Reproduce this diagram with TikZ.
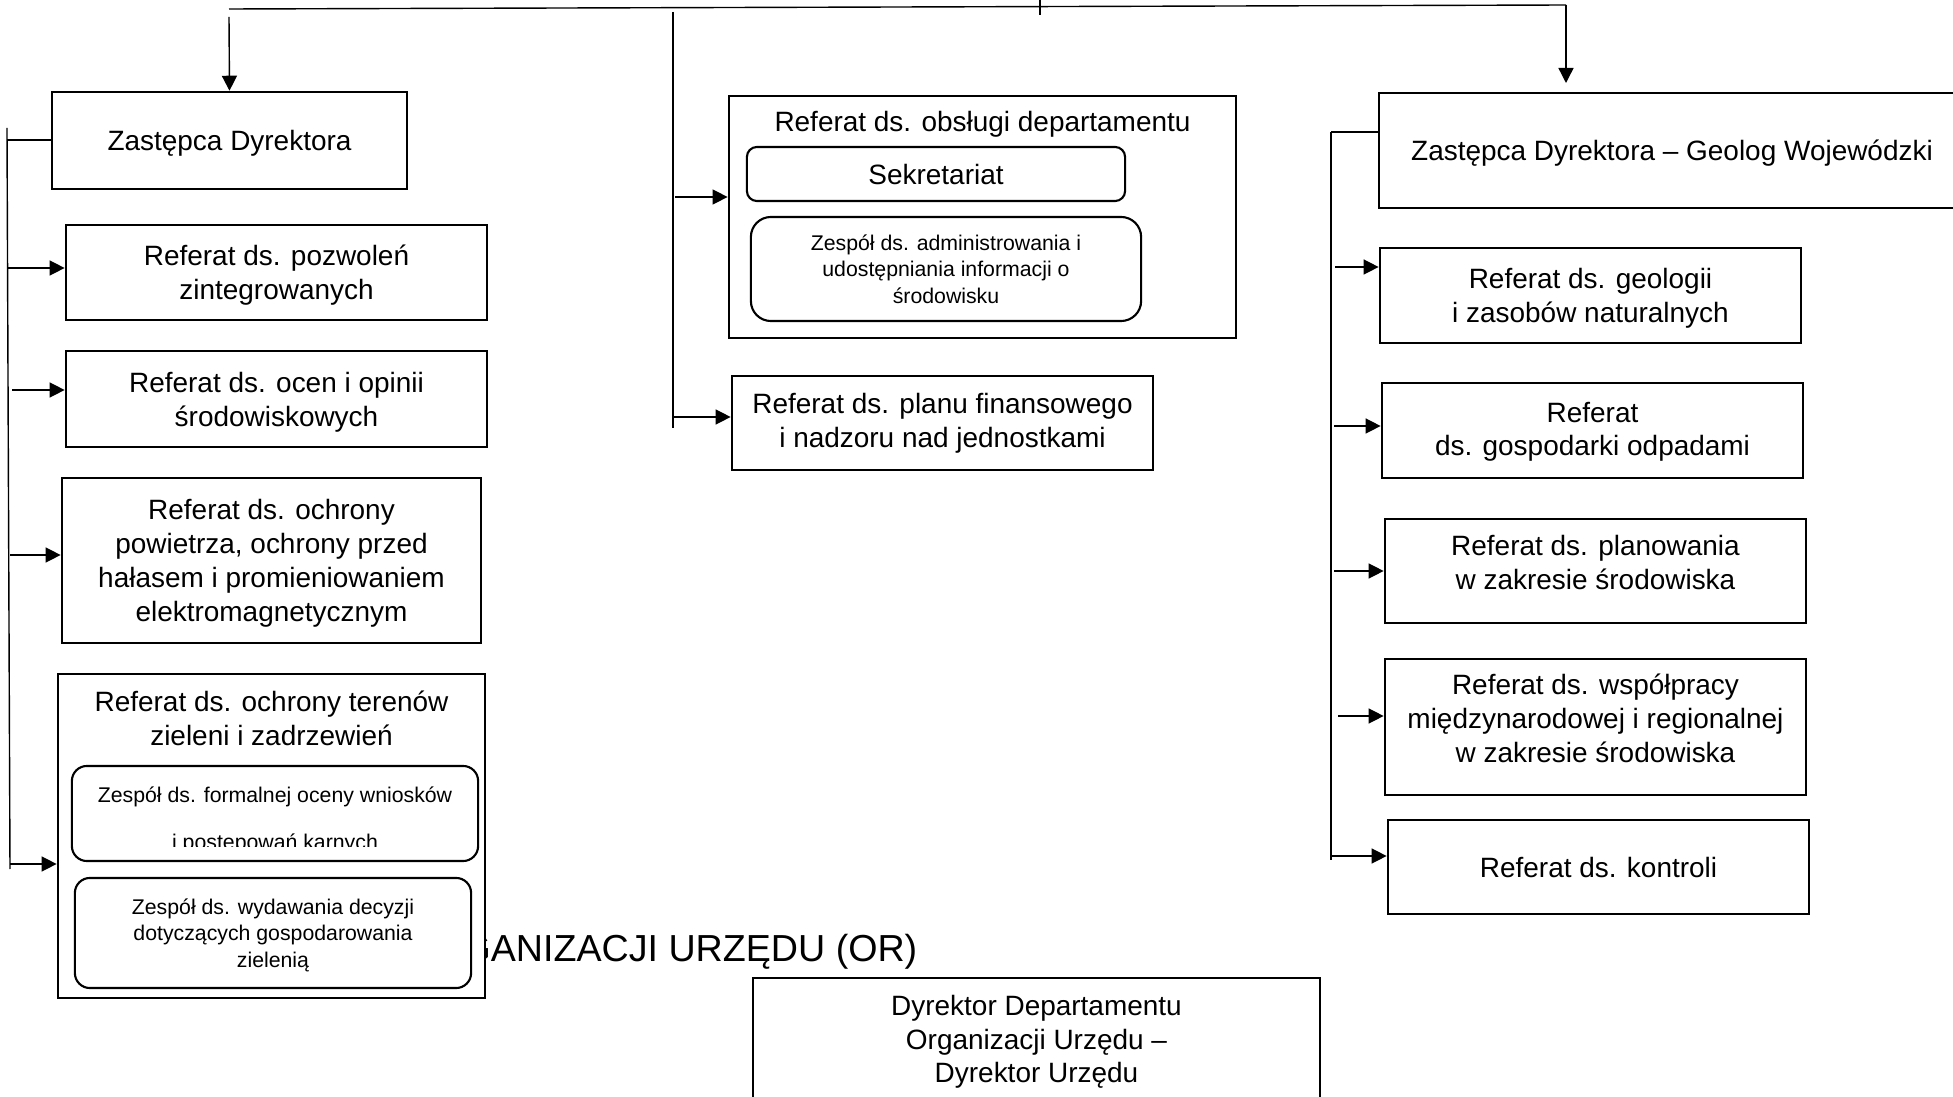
\documentclass[tikz,border=0pt]{standalone}
\usepackage{fontspec}
\setmainfont{Liberation Sans}
\usetikzlibrary{arrows.meta}
\newcommand{\mainfs}{\fontsize{7.95}{9.6}\selectfont}
\newcommand{\smallfs}{\fontsize{6.05}{7.45}\selectfont}
\newcommand{\titlefs}{\fontsize{10.7}{12.8}\selectfont}
\tikzstyle{unit} = [rectangle, inner sep=0pt, text depth=0pt, text centered, align=center, draw=black, line width=0.7pt, fill=white, font=\mainfs]
\tikzstyle{team} = [rectangle, rounded corners=0.15cm, inner sep=0pt, text depth=0pt, text centered, align=center, draw=black, line width=0.6pt, fill=white, font=\smallfs]
\tikzstyle{unittitle} = [inner sep=0pt, align=center, font=\mainfs]
\tikzstyle{arrow} = [line width=0.4pt,->,>={Triangle[length=1.5mm,width=1.5mm]}]
\tikzstyle{link} = [line width=0.4pt]
\begin{document}
\begin{tikzpicture}[x=0.01cm, y=-0.01cm]
\useasboundingbox (0,0) rectangle (1953,1097);

% Department title (partly hidden behind the boxes)
\node (deptTitle) [inner sep=0pt, anchor=east, font=\titlefs] at (918,952) {ORGANIZACJI URZĘDU (OR)};

% Column 1 - Zastepca Dyrektora
\node[draw, align=center] (zastL) [unit, minimum width=3.55cm, minimum height=0.97cm] at (229.5,140.5) {Zastępca Dyrektora};
\node[draw, align=center] (pozw) [unit, minimum width=4.21cm, minimum height=0.95cm] at (276.5,272.5) {Referat ds. pozwoleń\\zintegrowanych};
\node[draw, align=center] (ocen) [unit, minimum width=4.21cm, minimum height=0.96cm] at (276.5,399) {Referat ds. ocen i opinii\\środowiskowych};
\node[draw, align=center] (powietrze) [unit, minimum width=4.19cm, minimum height=1.65cm] at (271.5,560.5) {Referat ds. ochrony\\powietrza, ochrony przed\\hałasem i promieniowaniem\\elektromagnetycznym};
\node[draw] (tereny) [unit, minimum width=4.27cm, minimum height=3.24cm] at (271.5,836) {};
\node (terenyTitle) [unittitle] at (271.5,718) {Referat ds. ochrony terenów\\zieleni i zadrzewień};
\node[draw] (zespForm) [team, minimum width=4.06cm, minimum height=0.95cm] at (275,813.5) {};
\begin{scope}
\clip (72,766) rectangle (478,846);
\node (formTxtA) [inner sep=0pt, anchor=base, font=\smallfs] at (275,802) {Zespół ds. formalnej oceny wniosków};
\node (formTxtB) [inner sep=0pt, anchor=base, font=\smallfs] at (275,850) {i postępowań karnych};
\end{scope}
\node[draw, align=center] (zespZiel) [team, minimum width=3.96cm, minimum height=1.10cm] at (273,933) {Zespół ds. wydawania decyzji\\dotyczących gospodarowania\\zielenią};

% Column 2 - obsluga departamentu
\node[draw] (obsluga) [unit, minimum width=5.07cm, minimum height=2.42cm] at (982.5,217) {};
\node (obslugaTitle) [unittitle] at (982.5,124) {Referat ds. obsługi departamentu};
\node[draw, align=center] (sekr) [team, font=\mainfs, rounded corners=0.1cm, minimum width=3.78cm, minimum height=0.54cm] at (936,174) {Sekretariat};
\node[draw, align=center] (zespInfo) [team, rounded corners=0.2cm, minimum width=3.90cm, minimum height=1.04cm] at (946,269) {Zespół ds. administrowania i\\udostępniania informacji o\\środowisku};
\node[draw, align=center] (planu) [unit, text depth=0.06cm, minimum width=4.21cm, minimum height=0.94cm] at (942.5,423) {Referat ds. planu finansowego\\i nadzoru nad jednostkami};

% Column 3 - Geolog Wojewodzki
\node[draw, align=center] (geolog) [unit, minimum width=5.86cm, minimum height=1.15cm] at (1672,150.5) {Zastępca Dyrektora – Geolog Wojewódzki};
\node[draw, align=center] (geologia) [unit, minimum width=4.21cm, minimum height=0.95cm] at (1590.5,295.5) {Referat ds. geologii\\i zasobów naturalnych};
\node[draw, align=center] (odpady) [unit, text depth=0.03cm, minimum width=4.21cm, minimum height=0.95cm] at (1592.5,430.5) {Referat\\ds. gospodarki odpadami};
\node[draw, align=center] (planowanie) [unit, text depth=0.18cm, minimum width=4.21cm, minimum height=1.04cm] at (1595.5,571) {Referat ds. planowania\\w zakresie środowiska};
\node[draw, align=center] (wspolpraca) [unit, text depth=0.18cm, minimum width=4.21cm, minimum height=1.36cm] at (1595.5,727) {Referat ds. współpracy\\międzynarodowej i regionalnej\\w zakresie środowiska};
\node[draw, align=center] (kontrola) [unit, minimum width=4.21cm, minimum height=0.94cm] at (1598.5,867) {Referat ds. kontroli};

% Dyrektor Departamentu
\node[draw, align=center] (dyrektor) [unit, minimum width=5.67cm, minimum height=1.22cm] at (1036.5,1039) {Dyrektor Departamentu\\Organizacji Urzędu –\\Dyrektor Urzędu};

% Top - Arrows
\coordinate (topL) at (229,9);
\coordinate (topR) at (1566,5);
\coordinate (tickT) at (1040,0);
\coordinate (tickB) at (1040,15);
\coordinate (zastTop) at (229,17);
\coordinate (geoTip) at (1566,83);
\draw [link] (topL) -- (topR);
\draw [link] (tickT) -- (tickB);
\draw [arrow] (zastTop) -- (zastL.north);
\draw [arrow] (topR) -- (geoTip);

% Column 1 - Arrows
\coordinate (leftT) at (7,128);
\coordinate (leftB) at (10,869);
\coordinate (leftZ) at (7,140);
\coordinate (leftA) at (7,268);
\coordinate (leftO) at (12,390);
\coordinate (leftP) at (10,555);
\coordinate (leftT2) at (10,864);
\draw [link] (leftT) -- (leftB);
\draw [link] (leftZ) -- (leftZ -| zastL.west);
\draw [arrow] (leftA) -- (leftA -| pozw.west);
\draw [arrow] (leftO) -- (leftO -| ocen.west);
\draw [arrow] (leftP) -- (leftP -| powietrze.west);
\draw [arrow] (leftT2) -- (leftT2 -| tereny.west);

% Column 2 - Arrows
\coordinate (midT) at (673,12);
\coordinate (midB) at (673,428);
\coordinate (midA) at (675,197);
\coordinate (midP) at (673,417);
\draw [link] (midT) -- (midB);
\draw [arrow] (midA) -- (midA -| obsluga.west);
\draw [arrow] (midP) -- (midP -| planu.west);

% Column 3 - Arrows
\coordinate (rightT) at (1331,132);
\coordinate (rightB) at (1331,860);
\coordinate (rightG) at (1335,267);
\coordinate (rightO) at (1334,426);
\coordinate (rightP) at (1334,571);
\coordinate (rightW) at (1338,716);
\coordinate (rightK) at (1332,856);
\draw [link] (rightT) -- (rightB);
\draw [link] (rightT) -- (rightT -| geolog.west);
\draw [arrow] (rightG) -- (rightG -| geologia.west);
\draw [arrow] (rightO) -- (rightO -| odpady.west);
\draw [arrow] (rightP) -- (rightP -| planowanie.west);
\draw [arrow] (rightW) -- (rightW -| wspolpraca.west);
\draw [arrow] (rightK) -- (rightK -| kontrola.west);

\end{tikzpicture}
\end{document}
